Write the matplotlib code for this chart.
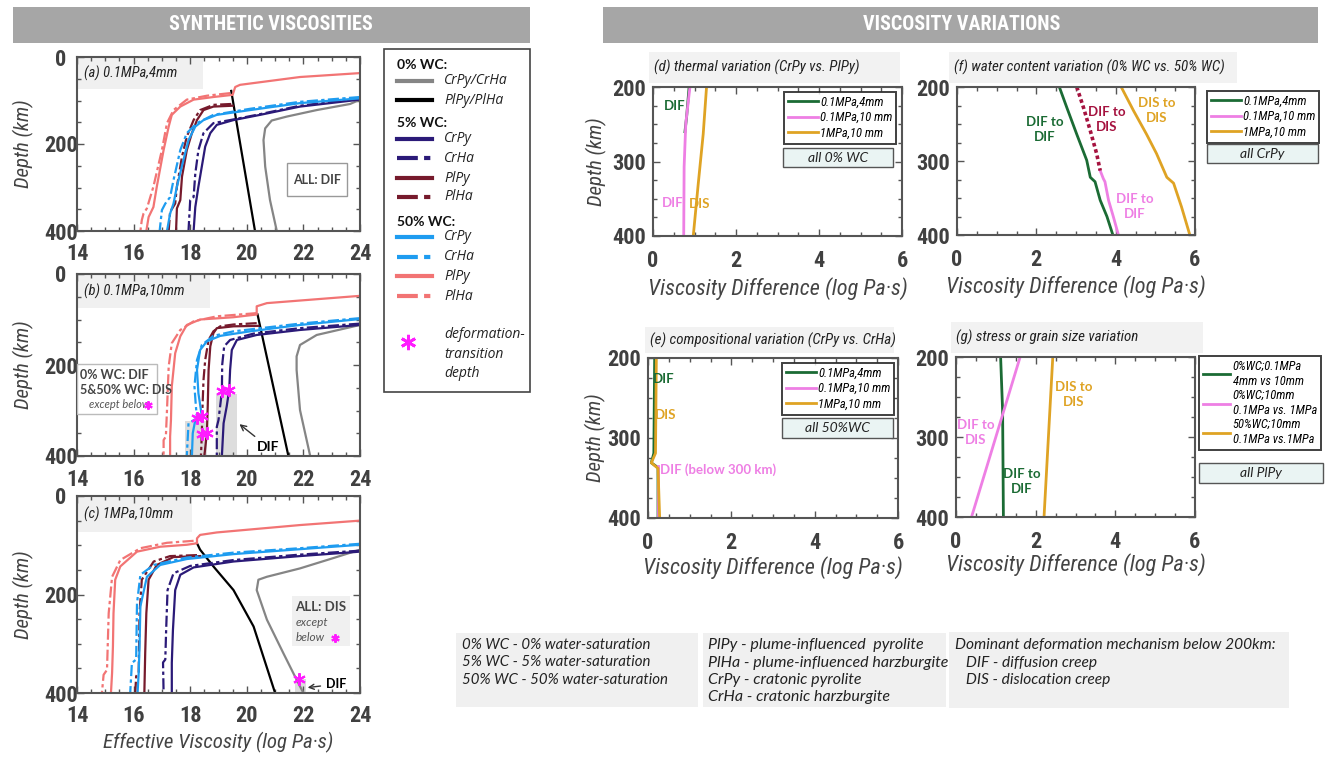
import matplotlib.pyplot as plt
from matplotlib.patches import Rectangle
from matplotlib.lines import Line2D

W, H = 1328, 759
NARROW = ['Roboto Condensed', 'Roboto', 'DejaVu Sans']
ROUND = ['Lato', 'DejaVu Sans']

SALMON = '#F27474'
DARKRED = '#761A2C'
BLUE = '#1E9CF0'
NAVY = '#2B1A78'
GRAY = '#858585'
GREEN = '#1B6B34'
PINK = '#EE7FE4'
ORANGE = '#DFA324'
CRIMSON = '#A5123F'
MAGENTA = '#FF1CFF'
DASHDOT = (0, (5, 1.5, 1.5, 1.5))

# ---- (a) 0.1MPa, 4mm : (effective viscosity, depth km)
a_gray = ([24.0, 23.65, 22.47, 21.41, 20.88, 20.65, 20.59, 20.65, 20.82, 21.06],
          [98, 108, 122, 137, 146, 164, 191, 252, 329, 400])
a_black = ([19.45, 20.29], [78, 400])
a_navy = ([24.0, 21.88, 20.47, 19.53, 18.94, 18.71, 18.53, 18.41, 18.29, 18.18, 18.12],
          [98, 114, 133, 145, 156, 175, 206, 252, 298, 345, 400])
a_navy_ha = ([24.0, 21.88, 20.35, 19.41, 18.82, 18.47, 18.29, 18.18, 18.12, 18.0, 17.94],
             [95, 112, 133, 145, 152, 175, 214, 268, 322, 329, 400])
a_red = ([19.5, 18.82, 18.47, 18.24, 18.06, 17.88, 17.71, 17.65, 17.53, 17.5],
         [112, 114, 122, 145, 175, 214, 275, 329, 348, 400])
a_red_ha = ([19.45, 18.82, 18.35, 18.12, 17.88, 17.71, 17.53, 17.47, 17.29, 17.24],
            [108, 110, 122, 145, 183, 229, 298, 337, 356, 400])
a_blue = ([24.0, 21.88, 20.12, 18.94, 18.47, 18.18, 17.94, 17.76, 17.53, 17.41, 17.29, 17.18],
          [95, 106, 122, 133, 145, 160, 191, 237, 298, 337, 360, 400])
a_blue_ha = ([24.0, 21.88, 20.12, 18.82, 18.24, 17.88, 17.65, 17.41, 17.29, 17.12, 17.0, 16.92],
             [92, 103, 119, 133, 152, 175, 214, 283, 322, 337, 352, 400])
a_salmon = ([24.0, 21.88, 19.76, 19.59, 19.5, 18.82, 18.12, 17.65, 17.35, 17.24, 17.06, 16.82, 16.7, 16.53, 16.45],
            [37, 46, 64, 69, 87, 92, 98, 114, 133, 160, 214, 298, 345, 368, 400])
a_salmon_ha = ([19.41, 18.59, 17.88, 17.41, 17.18, 17.0, 16.7, 16.47, 16.35, 16.29, 16.24],
               [83, 89, 98, 122, 152, 214, 298, 348, 360, 375, 400])

# ---- (b) 0.1MPa, 10mm
b_gray = ([24.0, 22.47, 21.88, 21.76, 21.76, 21.88, 22.24], [112, 134, 156, 181, 211, 299, 400])
b_black = ([20.38, 21.47], [89, 400])
b_navy = ([24.0, 21.88, 20.35, 19.65, 19.47, 19.41, 19.38, 19.29, 19.18, 19.12],
          [112, 123, 134, 145, 167, 211, 254, 291, 328, 400])
b_navy_ha = ([24.0, 21.88, 20.24, 19.41, 19.2, 19.13, 19.12, 19.0, 18.94, 18.94],
             [109, 119, 131, 145, 159, 200, 258, 321, 336, 400])
b_red = ([20.41, 19.53, 18.94, 18.82, 18.71, 18.65, 18.62, 18.59, 18.5],
         [114, 115, 119, 130, 159, 211, 290, 349, 400])
b_red_ha = ([20.35, 19.53, 19.06, 18.82, 18.65, 18.53, 18.47, 18.43, 18.41, 18.38],
            [108, 111, 115, 126, 145, 189, 233, 300, 352, 400])
b_blue = ([24.0, 21.88, 20.12, 19.06, 18.59, 18.35, 18.24, 18.29, 18.41, 18.18, 18.09, 18.06],
          [99, 112, 126, 136, 148, 167, 211, 262, 312, 321, 350, 400])
b_blue_ha = ([24.0, 21.88, 19.53, 18.82, 18.41, 18.24, 18.15, 18.2, 18.24, 17.94, 17.88],
             [97, 109, 126, 136, 156, 189, 247, 290, 317, 328, 400])
b_salmon = ([24.0, 20.71, 20.35, 20.35, 19.53, 18.35, 17.88, 17.65, 17.47, 17.35, 17.32, 17.29, 17.29],
            [48, 64, 71, 89, 95, 100, 112, 137, 174, 247, 321, 357, 400])
b_salmon_ha = ([20.35, 18.94, 18.12, 17.65, 17.35, 17.24, 17.18, 17.14, 17.06, 17.06],
               [86, 93, 104, 123, 152, 203, 299, 357, 365, 400])
b_star_x = [18.24, 18.41, 18.41, 18.59, 19.12, 19.38]
b_star_d = [317, 312, 352, 349, 258, 254]
b_shade = [(17.8, 18.59, 323), (18.92, 19.67, 263)]

# ---- (c) 1MPa, 10mm
c_gray = ([24.0, 23.06, 21.88, 20.71, 20.41, 20.35, 20.71, 21.29, 21.76, 22.0],
          [109, 126, 147, 164, 170, 191, 251, 319, 373, 400])
c_black = ([18.24, 18.35, 18.82, 19.53, 20.24, 21.0], [96, 109, 143, 191, 265, 400])
c_navy = ([24.0, 21.88, 19.53, 18.12, 17.65, 17.47, 17.39, 17.35, 17.35],
          [113, 122, 133, 145, 160, 191, 272, 339, 400])
c_navy_ha = ([24.0, 21.88, 19.53, 18.0, 17.41, 17.2, 17.15, 17.12, 17.04, 17.06],
             [111, 119, 130, 142, 157, 191, 272, 332, 338, 400])
c_red = ([18.35, 17.41, 16.82, 16.53, 16.45, 16.41, 16.38], [122, 124, 140, 170, 238, 319, 400])
c_red_ha = ([18.24, 17.29, 16.71, 16.29, 16.21, 16.18, 16.09, 16.06], [120, 122, 133, 170, 238, 359, 366, 400])
c_blue = ([24.0, 21.88, 19.53, 17.88, 16.94, 16.47, 16.24, 16.21, 16.18, 16.14],
          [99, 108, 118, 128, 140, 164, 224, 305, 359, 400])
c_blue_ha = ([24.0, 21.88, 19.53, 17.88, 16.71, 16.24, 16.12, 16.09, 15.94, 15.88],
             [97, 106, 115, 125, 140, 160, 218, 332, 339, 400])
c_salmon = ([24.0, 21.88, 18.94, 18.35, 18.24, 18.24, 17.88, 16.94, 16.12, 15.53, 15.35, 15.29, 15.27, 15.24, 15.2],
            [50, 59, 74, 79, 86, 96, 99, 103, 113, 143, 170, 238, 305, 359, 400])
c_salmon_ha = ([18.12, 17.18, 16.24, 15.53, 15.24, 15.12, 15.06, 14.94, 14.88],
               [91, 95, 106, 130, 164, 238, 353, 363, 400])
c_star_x = [21.86]
c_star_d = [371]
c_shade = [(21.71, 22.09, 371)]

# ---- viscosity differences (log Pa s) vs depth
d_green = ([0.87, 0.81, 0.77], [200, 240, 260])
d_pink = ([0.89, 0.79, 0.75, 0.74], [200, 249, 307, 400])
d_orange = ([1.29, 1.21, 1.09, 0.97], [200, 263, 330, 400])

e_green = ([0.16, 0.14, 0.08, 0.24, 0.24], [200, 319, 331, 337, 400])
e_pink = ([0.24, 0.24], [335, 400])
e_orange = ([0.2, 0.18, 0.08, 0.24, 0.28], [200, 319, 331, 338, 400])

f_green = ([2.58, 2.77, 3.02, 3.27, 3.36, 3.48, 3.61, 3.78, 3.93], [200, 228, 264, 299, 322, 328, 353, 375, 400])
f_crimson = ([3.02, 3.19, 3.36, 3.52, 3.61], [200, 228, 259, 290, 313])
f_pink = ([3.61, 3.69, 3.73, 3.82, 3.94, 4.07], [313, 324, 328, 353, 375, 400])
f_orange = ([4.14, 4.45, 4.78, 5.03, 5.29, 5.46, 5.66, 5.87], [200, 232, 264, 290, 322, 330, 362, 400])

g_green = ([1.12, 1.17, 1.19], [200, 267, 400])
g_pink = ([1.61, 0.39], [200, 400])
g_orange = ([2.43, 2.21], [200, 400])

case_labels = ['0.1MPa,4mm', '0.1MPa,10 mm', '1MPa,10 mm']
g_labels = ['0%WC;0.1MPa\n4mm vs 10mm', '0%WC;10mm\n0.1MPa vs. 1MPa', '50%WC;10mm\n0.1MPa vs.1MPa']

LEFT_STYLES = [(GRAY, '-'), ('black', '-'), (NAVY, '-'), (NAVY, DASHDOT), (DARKRED, '-'),
               (DARKRED, DASHDOT), (BLUE, '-'), (BLUE, DASHDOT), (SALMON, '-'), (SALMON, DASHDOT)]

fig = plt.figure(figsize=(W / 100, H / 100), dpi=100)


def px_axes(l, t, r, b):
    return fig.add_axes([l / W, 1 - b / H, (r - l) / W, (b - t) / H])


def style_axes(ax, xlim, ylim, xmaj, xmin, ymaj, ymin, ypad, xpad):
    ax.set_xlim(*xlim)
    ax.set_ylim(*ylim)
    tk = dict(fontfamily=NARROW, fontweight='bold', fontsize=16, color='#404040')
    ax.set_xticks(xmaj, [str(v) for v in xmaj], **tk)
    ax.set_yticks(ymaj, [str(v) for v in ymaj], ha='center', **tk)
    ax.set_xticks(xmin, minor=True)
    ax.set_yticks(ymin, minor=True)
    ax.tick_params(which='both', direction='in', top=True, right=True, color='#555', width=1)
    ax.tick_params(which='major', length=5)
    ax.tick_params(which='minor', length=3)
    ax.tick_params(axis='y', which='major', pad=ypad)
    ax.tick_params(axis='x', which='major', pad=xpad)
    for s in ax.spines.values():
        s.set_color('#555')
        s.set_linewidth(1.5)
    ax.patch.set_alpha(0)


def ylabel(ax, xpos):
    ax.set_ylabel('Depth (km)', fontfamily=NARROW, style='italic', fontsize=15, color='#444')
    ax.yaxis.label.set_va('center')
    ax.yaxis.set_label_coords(xpos, 0.5)


def xlabel(ax, text, ypos, size):
    ax.set_xlabel(text, fontfamily=NARROW, style='italic', fontsize=size, color='#444')
    ax.xaxis.label.set_va('center')
    ax.xaxis.set_label_coords(0.5, ypos)


def star(ax, xs, ds, size=9):
    ax.plot(xs, ds, ls='none', marker=(6, 2, 0), ms=size, mew=1.5, color=MAGENTA, zorder=6)


# overlay for headers / boxes (pixel coordinates)
ov = fig.add_axes([0, 0, 1, 1], zorder=5)
ov.set_xlim(0, W)
ov.set_ylim(H, 0)
ov.axis('off')
ov.patch.set_visible(False)

# ---------------- left panels ----------------
left_panels = [
    ((77, 57, 360, 231), [a_gray, a_black, a_navy, a_navy_ha, a_red, a_red_ha, a_blue, a_blue_ha, a_salmon, a_salmon_ha],
     '(a) 0.1MPa,4mm', 0.445),
    ((77, 274, 360, 456), [b_gray, b_black, b_navy, b_navy_ha, b_red, b_red_ha, b_blue, b_blue_ha, b_salmon, b_salmon_ha],
     '(b) 0.1MPa,10mm', 0.47),
    ((77, 496, 360, 693), [c_gray, c_black, c_navy, c_navy_ha, c_red, c_red_ha, c_blue, c_blue_ha, c_salmon, c_salmon_ha],
     '(c) 1MPa,10mm', 0.406),
]
left_axes = []
for rect, curves, lab, lw_frac in left_panels:
    ax = px_axes(*rect)
    for (x, d), (col, ls) in zip(curves, LEFT_STYLES):
        ax.plot(x, d, color=col, ls=ls, lw=1.6)
    style_axes(ax, (14, 24), (400, 0), list(range(14, 25, 2)), [14 + 0.5 * i for i in range(21)],
               [0, 200, 400], list(range(50, 400, 50)), 11.5, 9)
    ylabel(ax, -0.19)
    ax.add_patch(Rectangle((0, 0.815), lw_frac, 0.185, transform=ax.transAxes, facecolor='#F0F0F0',
                           edgecolor='none', zorder=0))
    ax.text(0.025, 0.907, lab, transform=ax.transAxes, fontfamily=NARROW, style='italic', fontsize=10.5,
            color='#222', va='center')
    left_axes.append(ax)

ax_a, ax_b, ax_c = left_axes
xlabel(ax_c, 'Effective Viscosity (log Pa·s)', -0.25, 15)

# (a) annotation
ax_a.add_patch(Rectangle((21.42, 244), 2.12, 76, facecolor='white', edgecolor='#999', lw=1, zorder=3))
ax_a.text(22.48, 282, 'ALL: DIF', fontfamily=ROUND, fontweight='bold', fontsize=9, color='#444',
          ha='center', va='center', zorder=4)

# (b) annotation
for x0, x1, d0 in b_shade:
    ax_b.add_patch(Rectangle((x0, d0), x1 - x0, 400 - d0, facecolor='#DDDDDD', edgecolor='none', zorder=0.5))
star(ax_b, b_star_x, b_star_d)
ax_b.add_patch(Rectangle((14, 198), 2.82, 109, facecolor='white', edgecolor='#BBB', lw=1, zorder=3))
ax_b.text(14.1, 222, '0% WC: DIF', fontfamily=ROUND, fontweight='bold', fontsize=9, color='#444',
          va='center', zorder=4)
ax_b.text(14.1, 256, '5&50% WC: DIS', fontfamily=ROUND, fontweight='bold', fontsize=9, color='#444',
          va='center', zorder=4)
ax_b.text(15.5, 287, 'except below', fontfamily=ROUND, style='italic', fontsize=8, color='#555',
          ha='center', va='center', zorder=4)
star(ax_b, [16.5], [287], size=6)
ax_b.annotate('DIF', xy=(19.74, 330), xytext=(20.35, 380), fontfamily=ROUND, fontweight='bold', fontsize=10,
              va='center', arrowprops=dict(arrowstyle='->', color='#333', lw=1, shrinkA=2, shrinkB=0))

# (c) annotation
for x0, x1, d0 in c_shade:
    ax_c.add_patch(Rectangle((x0, d0), x1 - x0, 400 - d0, facecolor='#DDDDDD', edgecolor='none', zorder=0.5))
star(ax_c, c_star_x, c_star_d)
ax_c.add_patch(Rectangle((21.59, 203), 2.06, 101, facecolor='#F0F0F0', edgecolor='none', zorder=3))
ax_c.text(22.62, 225, 'ALL: DIS', fontfamily=ROUND, fontweight='bold', fontsize=9.5, color='#444',
          ha='center', va='center', zorder=4)
ax_c.text(21.72, 256, 'except', fontfamily=ROUND, style='italic', fontsize=8.5, color='#555', va='center', zorder=4)
ax_c.text(21.72, 287, 'below', fontfamily=ROUND, style='italic', fontsize=8.5, color='#555', va='center', zorder=4)
star(ax_c, [23.1], [289], size=6)
ax_c.annotate('DIF', xy=(22.15, 389), xytext=(22.8, 382), fontfamily=ROUND, fontweight='bold', fontsize=9,
              va='center', arrowprops=dict(arrowstyle='->', color='#333', lw=1, shrinkA=2, shrinkB=0))

# ---------------- left legend ----------------
ov.add_patch(Rectangle((384, 49), 146, 343, facecolor='white', edgecolor='#444', lw=1.2))
for txt, y in [('0% WC:', 65), ('5% WC:', 123), ('50% WC:', 222)]:
    ov.text(397, y, txt, fontfamily=ROUND, fontweight='bold', fontsize=10, color='#111', va='center')
leg_names = ['CrPy/CrHa', 'PlPy/PlHa', 'CrPy', 'CrHa', 'PlPy', 'PlHa', 'CrPy', 'CrHa', 'PlPy', 'PlHa']
leg_y = [81, 100, 139, 158, 178, 197, 237, 257, 276, 296]
for (col, ls), name, y in zip(LEFT_STYLES, leg_names, leg_y):
    ov.add_line(Line2D([397, 432], [y, y], color=col, ls=ls, lw=3))
    ov.text(444, y, name, fontfamily=['Open Sans', 'DejaVu Sans'], style='italic', fontsize=10,
            color='#222', va='center')
ov.plot([408], [342], ls='none', marker=(6, 2, 0), ms=11, mew=2, color=MAGENTA)
ov.text(444, 354, 'deformation-\ntransition\ndepth', fontfamily=['Open Sans', 'DejaVu Sans'], style='italic',
        fontsize=10, color='#222', va='center', linespacing=1.45)

# ---------------- headers ----------------
ov.add_patch(Rectangle((13, 7), 517, 36, facecolor='#A6A6A6', edgecolor='none'))
ov.text(271, 25, 'SYNTHETIC VISCOSITIES', fontfamily=NARROW, fontweight='bold', fontsize=14.5,
        color='white', ha='center', va='center')
ov.add_patch(Rectangle((603, 7), 715, 36, facecolor='#A6A6A6', edgecolor='none'))
ov.text(962, 25, 'VISCOSITY VARIATIONS', fontfamily=NARROW, fontweight='bold', fontsize=14.5,
        color='white', ha='center', va='center')

# ---------------- right panels ----------------
right_panels = [
    ('d', (653, 87, 902, 236), [d_green, d_pink, d_orange], '(d) thermal variation (CrPy vs. PlPy)',
     (649, 52, 900, 83), -0.35),
    ('f', (957, 87, 1195, 235), [f_green, f_pink, f_orange], '(f) water content variation (0% WC vs. 50% WC)',
     (949, 52, 1237, 83), -0.35),
    ('e', (648, 358, 898, 518), [e_green, e_pink, e_orange], '(e) compositional variation (CrPy vs. CrHa)',
     (645, 327, 894, 353), -0.31),
    ('g', (956, 357, 1195, 517), [g_green, g_pink, g_orange], '(g) stress or grain size variation',
     (951, 322, 1203, 353), -0.3),
]
raxes = {}
for key, rect, curves, title, tbox, xl in right_panels:
    ax = px_axes(*rect)
    handles = []
    for (x, d), col in zip(curves, [GREEN, PINK, ORANGE]):
        h, = ax.plot(x, d, color=col, lw=2)
        handles.append(h)
    style_axes(ax, (0, 6), (400, 200), [0, 2, 4, 6], [0.5 * i for i in range(13)],
               [200, 300, 400], list(range(225, 400, 25)), 17, 10)
    xlabel(ax, 'Viscosity Difference (log Pa·s)', xl, 16)
    l, t, r, b = tbox
    ov.add_patch(Rectangle((l, t), r - l, b - t, facecolor='#F2F2F2', edgecolor='none'))
    ov.text(l + 5, (t + b) / 2, title, fontfamily=NARROW, style='italic', fontsize=10.8, color='#222', va='center')
    raxes[key] = (ax, handles)

ylabel(raxes['d'][0], -0.225)
ylabel(raxes['e'][0], -0.21)

ax_f = raxes['f'][0]
ax_f.plot(*f_crimson, color=CRIMSON, lw=2.6, ls=(0, (1, 0.8)))

# legends
leg_kw = dict(prop=dict(family=NARROW, style='italic', size=9), handlelength=2.4, handletextpad=0.2,
              borderpad=0.3, labelspacing=0.2, borderaxespad=0, loc='upper left', fancybox=False,
              bbox_transform=fig.transFigure)
for key, (lx, ly) in [('d', (784, 92)), ('f', (1207, 91)), ('e', (782, 363))]:
    ax, handles = raxes[key]
    lg = ax.legend(handles, case_labels, bbox_to_anchor=(lx / W, 1 - ly / H), **leg_kw)
    lg.get_frame().set_edgecolor('#111')
    lg.get_frame().set_linewidth(1.4)
ax_g, g_handles = raxes['g']
g_kw = {**leg_kw, 'handlelength': 2.2, 'labelspacing': 0.1}
lg = ax_g.legend(g_handles, g_labels, bbox_to_anchor=(1199 / W, 1 - 356 / H), **g_kw)
lg.get_frame().set_edgecolor('#111')
lg.get_frame().set_linewidth(1.4)

for (l, t, r, b), txt in [((783, 148, 893, 167), 'all 0% WC'), ((1207, 144, 1318, 163), 'all CrPy'),
                          ((782, 418, 893, 438), 'all 50%WC'), ((1199, 463, 1323, 483), 'all PlPy')]:
    ov.add_patch(Rectangle((l, t), r - l, b - t, facecolor='#EAF4F3', edgecolor='#555', lw=1))
    ov.text((l + r) / 2, (t + b) / 2, txt, fontfamily=ROUND, style='italic', fontsize=10, color='#222',
            ha='center', va='center')

# mechanism labels
lab = dict(fontfamily=ROUND, fontweight='bold', fontsize=9.5, ha='center', va='center', linespacing=1.3)
ax_d = raxes['d'][0]
ax_d.text(0.52, 225, 'DIF', color=GREEN, **lab)
ax_d.text(0.47, 356, 'DIF', color=PINK, **lab)
ax_d.text(1.13, 357, 'DIS', color=ORANGE, **lab)
ax_f.text(2.22, 257, 'DIF to\nDIF', color=GREEN, **lab)
ax_f.text(3.78, 244, 'DIF to\nDIS', color=CRIMSON, **lab)
ax_f.text(5.03, 232, 'DIS to\nDIS', color=ORANGE, **lab)
ax_f.text(4.49, 362, 'DIF to\nDIF', color=PINK, **lab)
ax_e = raxes['e'][0]
ax_e.text(0.38, 226, 'DIF', color=GREEN, **lab)
ax_e.text(0.42, 271, 'DIS', color=ORANGE, **lab)
ax_e.text(0.28, 340, 'DIF (below 300 km)', color=PINK, **{**lab, 'ha': 'left'})
ax_g.text(2.96, 247, 'DIS to\nDIS', color=ORANGE, **lab)
ax_g.text(0.5, 294, 'DIF to\nDIS', color=PINK, **lab)
ax_g.text(1.65, 356, 'DIF to\nDIF', color=GREEN, **lab)

# ---------------- bottom info boxes ----------------
info = [
    ((456, 633, 698, 707), 462, 10.8, ['0% WC - 0% water-saturation', '5% WC - 5% water-saturation',
                                       '50% WC - 50% water-saturation']),
    ((703, 633, 946, 707), 708, 11.5, ['PlPy - plume-influenced  pyrolite', 'PlHa - plume-influenced harzburgite',
                                       'CrPy - cratonic pyrolite', 'CrHa - cratonic harzburgite']),
    ((949, 632, 1289, 708), 955, 11.2, ['Dominant deformation mechanism below 200km:', '   DIF - diffusion creep',
                                        '   DIS - dislocation creep']),
]
for (l, t, r, b), tx, fs, lines in info:
    ov.add_patch(Rectangle((l, t), r - l, b - t, facecolor='#F0F0F0', edgecolor='none'))
    for i, line in enumerate(lines):
        ov.text(tx, 645 + 17.5 * i, line, fontfamily=ROUND, style='italic', fontsize=fs, color='#222',
                va='center')

fig.savefig('out.png', dpi=100)
